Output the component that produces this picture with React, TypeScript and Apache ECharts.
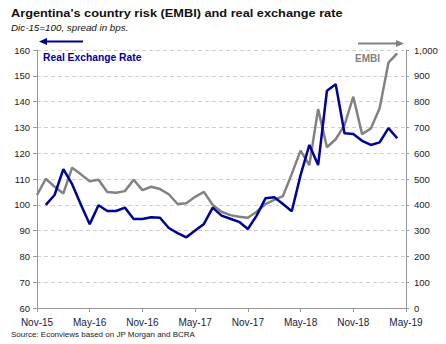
import React, { useEffect, useRef } from "react";
import * as echarts from "echarts";

const months = [
  "Nov-15", "Dec-15", "Jan-16", "Feb-16", "Mar-16", "Apr-16", "May-16", "Jun-16", "Jul-16", "Aug-16", "Sep-16", "Oct-16",
  "Nov-16", "Dec-16", "Jan-17", "Feb-17", "Mar-17", "Apr-17", "May-17", "Jun-17", "Jul-17", "Aug-17", "Sep-17", "Oct-17",
  "Nov-17", "Dec-17", "Jan-18", "Feb-18", "Mar-18", "Apr-18", "May-18", "Jun-18", "Jul-18", "Aug-18", "Sep-18", "Oct-18",
  "Nov-18", "Dec-18", "Jan-19", "Feb-19", "Mar-19", "Apr-19", "May-19",
];

const realExchangeRate = [
  null, 100, 103.8, 113.8, 108, 100, 92.5, 99.8, 97.6, 97.6, 98.9, 94.5,
  94.5, 95.2, 95, 91, 89, 87.4, 90, 92.6, 98.9, 95.8, 94.6, 93.4,
  90.6, 95.8, 102.5, 102.9, 100.3, 97.5, 111.5, 123.2, 115.4, 144.2, 146.7, 127.7,
  127.4, 124.8, 123.2, 124.2, 129.7, 125.8, null,
];

const embi = [
  438, 501, 470, 444, 544, 518, 491, 497, 450, 447, 453, 497,
  457, 470, 461, 441, 403, 406, 431, 450, 399, 373, 360, 354,
  350, 373, 403, 419, 434, 520, 610, 554, 771, 623, 654, 709,
  819, 674, 696, 774, 951, 987, null,
];

const titleText = "Argentina's country risk (EMBI) and real exchange rate";
const subtitleText = "Dic-15=100, spread in bps.";
const sourceText = "Source: Econviews based on JP Morgan and BCRA";

const BLUE = "#00009a";
const GRAY = "#828282";
const FONT = "'Liberation Sans', Arial, sans-serif";

export default function App() {
  const ref = useRef<HTMLDivElement>(null);
  useEffect(() => {
    if (!ref.current) return;
    const chart = echarts.init(ref.current, undefined, { renderer: "svg" });
    chart.setOption({
      animation: false,
      backgroundColor: "#ffffff",
      textStyle: { fontFamily: FONT },
      grid: { left: 37, right: 40, top: 50, bottom: 36, containLabel: false },
      xAxis: {
        type: "category",
        data: months,
        boundaryGap: false,
        axisLine: { lineStyle: { color: "#999999", width: 1 } },
        axisTick: { show: true, interval: 5, length: 4, lineStyle: { color: "#999999" } },
        axisLabel: { interval: 5, color: "#1a1a40", fontSize: 10, margin: 9, fontFamily: FONT },
        splitLine: { show: false },
      },
      yAxis: [
        {
          type: "value",
          min: 60,
          max: 160,
          interval: 10,
          position: "left",
          axisLine: { show: true, lineStyle: { color: "#999999" } },
          axisTick: { show: true, length: 4, lineStyle: { color: "#999999" } },
          axisLabel: { color: "#222222", fontSize: 9.5, margin: 7, fontFamily: FONT },
          splitLine: { show: true, lineStyle: { color: "#d0d0d0", type: [4, 3] } },
        },
        {
          type: "value",
          min: 0,
          max: 1000,
          interval: 100,
          position: "right",
          axisLine: { show: true, lineStyle: { color: "#999999" } },
          axisTick: { show: true, length: 3, lineStyle: { color: "#999999" } },
          axisLabel: {
            color: "#222222",
            fontSize: 9.5,
            margin: 8,
            fontFamily: FONT,
            formatter: (v: number) => v.toLocaleString("en-US"),
          },
          splitLine: { show: false },
        },
      ],
      series: [
        {
          name: "EMBI",
          type: "line",
          yAxisIndex: 1,
          data: embi,
          showSymbol: false,
          symbol: "none",
          lineStyle: { color: GRAY, width: 2.5 },
          z: 2,
        },
        {
          name: "Real Exchange Rate",
          type: "line",
          yAxisIndex: 0,
          data: realExchangeRate,
          showSymbol: false,
          symbol: "none",
          lineStyle: { color: BLUE, width: 2.5 },
          z: 3,
        },
      ],
      graphic: [
        {
          type: "text",
          x: 11,
          y: 7,
          scaleX: 1.11,
          style: { text: titleText, font: `bold 11.5px ${FONT}`, fill: "#111111", textVerticalAlign: "top" },
        },
        {
          type: "text",
          x: 11,
          y: 22,
          style: { text: subtitleText, font: `italic 9.8px ${FONT}`, fill: "#111111", textVerticalAlign: "top" },
        },
        {
          type: "text",
          x: 43,
          y: 52,
          style: { text: "Real Exchange Rate", font: `bold 10.3px ${FONT}`, fill: BLUE, textVerticalAlign: "top" },
        },
        {
          type: "text",
          x: 355,
          y: 53.5,
          style: { text: "EMBI", font: `bold 10px ${FONT}`, fill: GRAY, textVerticalAlign: "top" },
        },
        {
          type: "line",
          shape: { x1: 45, y1: 41.5, x2: 83, y2: 41.5 },
          style: { stroke: BLUE, lineWidth: 2 },
        },
        {
          type: "polygon",
          shape: { points: [[39, 41.5], [47, 38], [47, 45]] },
          style: { fill: BLUE },
        },
        {
          type: "line",
          shape: { x1: 358, y1: 43.5, x2: 397, y2: 43.5 },
          style: { stroke: GRAY, lineWidth: 2 },
        },
        {
          type: "polygon",
          shape: { points: [[404, 43.5], [396, 40], [396, 47]] },
          style: { fill: GRAY },
        },
        {
          type: "text",
          x: 11,
          y: 330,
          style: { text: sourceText, font: `8px ${FONT}`, fill: "#222222", textVerticalAlign: "top" },
        },
      ],
    });
    return () => chart.dispose();
  }, []);
  return <div ref={ref} style={{ width: 446, height: 344, position: "absolute", left: 0, top: 0 }} />;
}
